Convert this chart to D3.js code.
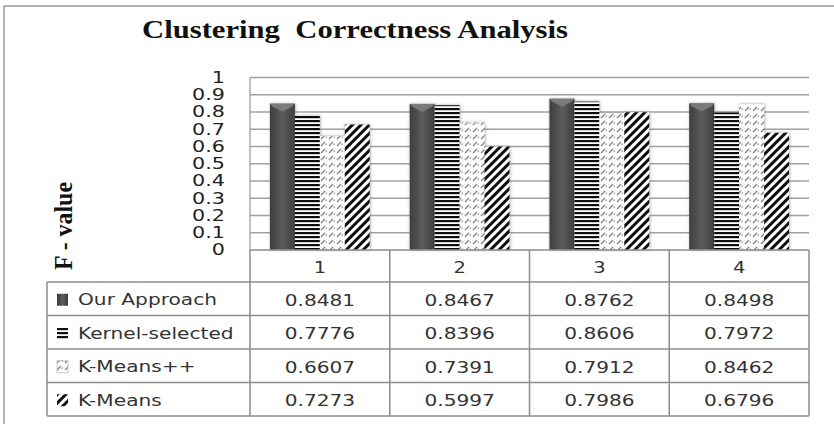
<!doctype html>
<html>
  <head>
    <script src="https://d3js.org/d3.v7.min.js"></script>
    <style>
      body { margin: 0; background: white; }
    </style>
  </head>
  <body>
    <svg class="chart" width="834" height="424"></svg>
    <script>
        var categories = ["1", "2", "3", "4"];
        var seriesNames = ["Our Approach", "Kernel-selected", "K-Means++", "K-Means"];
        var ourApproach = [0.8481, 0.8467, 0.8762, 0.8498];
        var kernelSelected = [0.7776, 0.8396, 0.8606, 0.7972];
        var kMeansPP = [0.6607, 0.7391, 0.7912, 0.8462];
        var kMeans = [0.7273, 0.5997, 0.7986, 0.6796];
        var yTicks = [0, 0.1, 0.2, 0.3, 0.4, 0.5, 0.6, 0.7, 0.8, 0.9, 1];
        var seriesValues = [ourApproach, kernelSelected, kMeansPP, kMeans];
        var fills = ["url(#darkGrad)", "url(#hstripe)", "url(#dashes)", "url(#diag)"];

        var svg = d3.select("svg");
        var sans = "DejaVu Sans, Verdana, sans-serif";
        var serif = "Liberation Serif, Times New Roman, serif";

        // defs: patterns and gradient
        var defs = svg.append("defs");
        var grad = defs.append("linearGradient").attr("id", "darkGrad")
            .attr("x1", "0").attr("x2", "1").attr("y1", "0").attr("y2", "0");
        grad.append("stop").attr("offset", "0").attr("stop-color", "#3e3e3e");
        grad.append("stop").attr("offset", "0.5").attr("stop-color", "#5c5c5c");
        grad.append("stop").attr("offset", "1").attr("stop-color", "#3e3e3e");

        var hs = defs.append("pattern").attr("id", "hstripe").attr("patternUnits", "userSpaceOnUse")
            .attr("width", 4).attr("height", 4);
        hs.append("rect").attr("width", 4).attr("height", 4).attr("fill", "white");
        hs.append("rect").attr("width", 4).attr("height", 2.2).attr("fill", "#111");

        var ds = defs.append("pattern").attr("id", "dashes").attr("patternUnits", "userSpaceOnUse")
            .attr("width", 8).attr("height", 7);
        ds.append("rect").attr("width", 8).attr("height", 7).attr("fill", "white");
        ds.append("path").attr("d", "M1,6 L5,2").attr("stroke", "#888").attr("stroke-width", 1.4);
        ds.append("path").attr("d", "M5.5,5 L7,3.5").attr("stroke", "#aaa").attr("stroke-width", 1.1);

        var dg = defs.append("pattern").attr("id", "diag").attr("patternUnits", "userSpaceOnUse")
            .attr("width", 6).attr("height", 6).attr("patternTransform", "rotate(45)");
        dg.append("rect").attr("width", 6).attr("height", 6).attr("fill", "white");
        dg.append("rect").attr("width", 3).attr("height", 6).attr("fill", "#111");

        var glow = defs.append("filter").attr("id", "glow")
            .attr("x", "-30%").attr("y", "-10%").attr("width", "160%").attr("height", "120%");
        glow.append("feDropShadow").attr("dx", 0.5).attr("dy", 0).attr("stdDeviation", 1.6)
            .attr("flood-color", "#777").attr("flood-opacity", 0.7);

        // helper for horizontally stretched text
        function stext(g, x, y, txt, anchor, fs, sx, color) {
            return g.append("text")
                .attr("transform", "translate(" + x + "," + y + ") scale(" + sx + ",1)")
                .attr("text-anchor", anchor)
                .attr("dominant-baseline", "central")
                .style("font-family", sans)
                .style("font-size", fs + "px")
                .attr("fill", color)
                .text(txt);
        }

        // outer frame
        svg.append("rect").attr("x", 4).attr("y", 6).attr("width", 840).attr("height", 430)
            .attr("fill", "none").attr("stroke", "#999").attr("stroke-width", 1.5);

        // title
        svg.append("text").attr("x", 355).attr("y", 38).attr("text-anchor", "middle")
            .attr("textLength", 426).attr("lengthAdjust", "spacingAndGlyphs")
            .style("white-space", "pre")
            .style("font-family", serif).style("font-weight", "bold").style("font-size", "25px")
            .attr("fill", "#111")
            .text("Clustering  Correctness Analysis");

        // y label
        svg.append("text").attr("transform", "translate(72,226) rotate(-90) scale(1,1.2)")
            .attr("text-anchor", "middle")
            .attr("textLength", 88).attr("lengthAdjust", "spacingAndGlyphs")
            .style("font-family", serif).style("font-weight", "bold").style("font-size", "21px")
            .attr("fill", "#111")
            .text("F - value");

        var plotLeft = 250, plotRight = 809, plotTop = 77.5, plotBottom = 250;
        var xScale = d3.scaleBand().domain(categories).range([plotLeft, plotRight]).padding(0);
        var sScale = d3.scaleBand().domain(seriesNames).range([0, xScale.bandwidth()])
            .paddingInner(0).paddingOuter(0.8);
        var yScale = d3.scaleLinear().domain([0, 1]).range([plotBottom, plotTop]);

        // gridlines
        svg.append("g").selectAll("line").data(yTicks.filter(function(d){return d > 0;}))
            .enter().append("line")
            .attr("x1", plotLeft).attr("x2", plotRight)
            .attr("y1", function(d){return yScale(d);}).attr("y2", function(d){return yScale(d);})
            .attr("stroke", "#a0a0a0").attr("stroke-width", 1.3);
        svg.append("line").attr("x1", plotLeft).attr("x2", plotLeft).attr("y1", plotTop).attr("y2", plotBottom)
            .attr("stroke", "#a0a0a0").attr("stroke-width", 1.3);

        // tick labels
        var tg = svg.append("g");
        yTicks.forEach(function(t) {
            stext(tg, 225, yScale(t), String(t), "end", 15, 1.38, "#222");
        });

        // bars
        var bars = svg.append("g").attr("filter", "url(#glow)");
        seriesNames.forEach(function(name, si) {
            bars.selectAll(".bar" + si)
                .data(seriesValues[si])
                .enter().append("rect")
                .attr("x", function(d, i){return xScale(categories[i]) + sScale(name);})
                .attr("y", function(d){return yScale(d);})
                .attr("width", sScale.bandwidth())
                .attr("height", function(d){return yScale(0) - yScale(d);})
                .attr("fill", fills[si]);
        });
        // chevron caps on the dark bars
        svg.append("g").selectAll("path").data(ourApproach).enter().append("path")
            .attr("d", function(d, i) {
                var x0 = xScale(categories[i]) + sScale(seriesNames[0]);
                var w = sScale.bandwidth(), y0 = yScale(d);
                return "M" + x0 + "," + y0 + " L" + (x0 + w) + "," + y0 +
                    " L" + (x0 + w - 3) + "," + (y0 + 3) + " L" + (x0 + w / 2) + "," + (y0 + 8) +
                    " L" + (x0 + 3) + "," + (y0 + 3) + " Z";
            })
            .attr("fill", "#7a7a7a");

        // data table
        var tableLeft = 47, headerTop = 250, headerBottom = 282, tableBottom = 416;
        var rowScale = d3.scaleBand().domain(seriesNames).range([headerBottom, tableBottom]);
        var tb = svg.append("g");
        var lineColor = "#8c8c8c";
        // horizontal lines
        tb.append("line").attr("x1", plotLeft).attr("x2", plotRight).attr("y1", headerTop).attr("y2", headerTop)
            .attr("stroke", lineColor).attr("stroke-width", 1.5);
        tb.selectAll(".hl").data(seriesNames).enter().append("line")
            .attr("x1", tableLeft).attr("x2", plotRight)
            .attr("y1", function(d){return rowScale(d);}).attr("y2", function(d){return rowScale(d);})
            .attr("stroke", lineColor).attr("stroke-width", 1.5);
        tb.append("line").attr("x1", tableLeft).attr("x2", plotRight).attr("y1", tableBottom).attr("y2", tableBottom)
            .attr("stroke", lineColor).attr("stroke-width", 1.5);
        // vertical lines
        tb.append("line").attr("x1", tableLeft).attr("x2", tableLeft).attr("y1", headerBottom).attr("y2", tableBottom)
            .attr("stroke", lineColor).attr("stroke-width", 1.5);
        tb.selectAll(".vl").data(categories).enter().append("line")
            .attr("x1", function(d){return xScale(d);}).attr("x2", function(d){return xScale(d);})
            .attr("y1", headerTop).attr("y2", tableBottom)
            .attr("stroke", lineColor).attr("stroke-width", 1.5);
        tb.append("line").attr("x1", plotRight).attr("x2", plotRight).attr("y1", headerTop).attr("y2", tableBottom)
            .attr("stroke", lineColor).attr("stroke-width", 1.5);

        // header labels
        categories.forEach(function(c) {
            stext(tb, xScale(c) + xScale.bandwidth() / 2, (headerTop + headerBottom) / 2 + 1.5, c, "middle", 16, 1.22, "#333");
        });

        // rows
        seriesNames.forEach(function(name, si) {
            var cy = rowScale(name) + rowScale.bandwidth() / 2 + 1;
            tb.append("rect").attr("x", 57).attr("y", cy - 6).attr("width", 11).attr("height", 12)
                .attr("fill", fills[si]).attr("stroke", si === 2 ? "#bbb" : "none").attr("stroke-width", 0.8);
            stext(tb, 78, cy, name, "start", 16, 1.26, "#333");
            seriesValues[si].forEach(function(v, i) {
                stext(tb, xScale(categories[i]) + xScale.bandwidth() / 2, cy, v.toFixed(4), "middle", 16.5, 1.22, "#333");
            });
        });
    </script>
  </body>
</html>
